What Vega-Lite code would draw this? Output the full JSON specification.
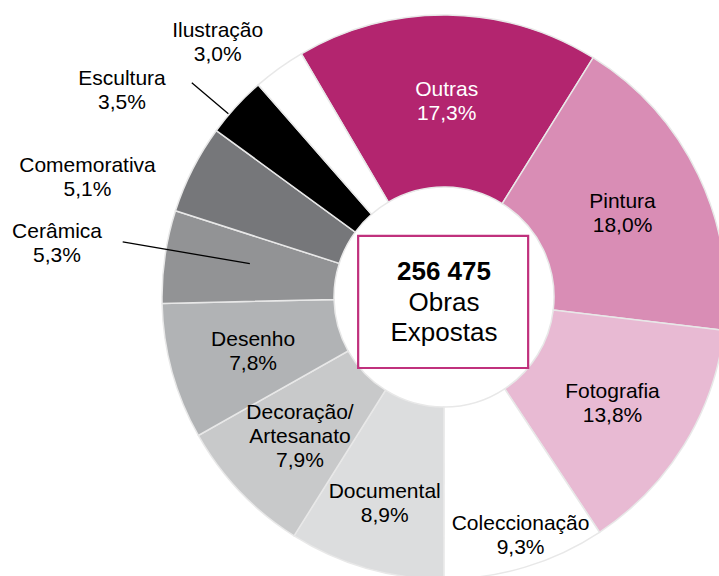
{
  "$schema": "https://vega.github.io/schema/vega-lite/v6.json",
  "autosize": "none",
  "width": 888,
  "height": 594,
  "padding": 0,
  "background": "white",
  "config": {"view": {"stroke": null}, "font": "Liberation Sans"},
  "data": {
    "values": [
      {"rank": 1, "cat": "Outras", "pct": 17.3, "label": "Outras\n17,3%"},
      {"rank": 2, "cat": "Pintura", "pct": 18.0, "label": "Pintura\n18,0%"},
      {"rank": 3, "cat": "Fotografia", "pct": 13.8, "label": "Fotografia\n13,8%"},
      {"rank": 4, "cat": "Coleccionação", "pct": 9.3, "label": "Coleccionação\n9,3%"},
      {"rank": 5, "cat": "Documental", "pct": 8.9, "label": "Documental\n8,9%"},
      {"rank": 6, "cat": "Decoração/Artesanato", "pct": 7.9, "label": "Decoração/\nArtesanato\n7,9%"},
      {"rank": 7, "cat": "Desenho", "pct": 7.8, "label": "Desenho\n7,8%"},
      {"rank": 8, "cat": "Cerâmica", "pct": 5.3, "label": "Cerâmica\n5,3%"},
      {"rank": 9, "cat": "Comemorativa", "pct": 5.1, "label": "Comemorativa\n5,1%"},
      {"rank": 10, "cat": "Escultura", "pct": 3.5, "label": "Escultura\n3,5%"},
      {"rank": 11, "cat": "Ilustração", "pct": 3.0, "label": "Ilustração\n3,0%"}
    ]
  },
  "layer": [
    {
      "mark": {"type": "arc", "innerRadius": 110, "outerRadius": 282, "stroke": "#E8E8E8", "strokeWidth": 1.5},
      "encoding": {
        "theta": {"field": "pct", "type": "quantitative", "stack": true, "scale": {"range": [-0.5306, 5.7526]}},
        "order": {"field": "rank", "type": "quantitative"},
        "color": {
          "field": "cat", "type": "nominal", "legend": null,
          "scale": {
            "domain": ["Outras", "Pintura", "Fotografia", "Coleccionação", "Documental", "Decoração/Artesanato", "Desenho", "Cerâmica", "Comemorativa", "Escultura", "Ilustração"],
            "range": ["#B3256F", "#D98DB5", "#E8BAD3", "#FFFFFF", "#DCDDDE", "#C8C9CA", "#B1B3B5", "#929395", "#76777A", "#000000", "#FFFFFF"]
          }
        }
      }
    },
    {
      "mark": {"type": "arc", "innerRadius": 197, "outerRadius": 326, "padAngle": 3, "thetaOffset": 0.026, "filled": false, "color": "black", "stroke": "black", "strokeWidth": 1.3},
      "encoding": {
        "theta": {"field": "pct", "type": "quantitative", "stack": true, "scale": {"range": [-0.5306, 5.7526]}},
        "order": {"field": "rank", "type": "quantitative"},
        "detail": {"field": "cat", "type": "nominal"},
        "strokeOpacity": {"condition": {"test": "datum.cat === 'Cerâmica'", "value": 1}, "value": 0}
      }
    },
    {
      "mark": {"type": "arc", "innerRadius": 283, "outerRadius": 331, "padAngle": 3, "thetaOffset": -0.037, "filled": false, "color": "black", "stroke": "black", "strokeWidth": 1.3},
      "encoding": {
        "theta": {"field": "pct", "type": "quantitative", "stack": true, "scale": {"range": [-0.5306, 5.7526]}},
        "order": {"field": "rank", "type": "quantitative"},
        "detail": {"field": "cat", "type": "nominal"},
        "strokeOpacity": {"condition": {"test": "datum.cat === 'Escultura'", "value": 1}, "value": 0}
      }
    },
    {
      "mark": {"type": "text", "radius": 198, "dy": -9, "fontSize": 21, "lineHeight": 24, "lineBreak": "\n", "align": "center", "baseline": "middle", "font": "Liberation Sans"},
      "encoding": {
        "theta": {"field": "pct", "type": "quantitative", "stack": true, "scale": {"range": [-0.5306, 5.7526]}},
        "order": {"field": "rank", "type": "quantitative"},
        "detail": {"field": "cat", "type": "nominal"},
        "text": {"field": "label", "type": "nominal"},
        "color": {"condition": {"test": "datum.cat === 'Outras'", "value": "white"}, "value": "black"},
        "opacity": {"condition": {"test": "indexof(['Outras','Pintura','Fotografia','Desenho'], datum.cat) >= 0", "value": 1}, "value": 0}
      }
    },
    {
      "mark": {"type": "text", "radius": 199, "dy": -21, "fontSize": 21, "lineHeight": 24, "lineBreak": "\n", "align": "center", "baseline": "middle", "font": "Liberation Sans", "color": "black"},
      "encoding": {
        "theta": {"field": "pct", "type": "quantitative", "stack": true, "scale": {"range": [-0.5306, 5.7526]}},
        "order": {"field": "rank", "type": "quantitative"},
        "detail": {"field": "cat", "type": "nominal"},
        "text": {"field": "label", "type": "nominal"},
        "opacity": {"condition": {"test": "datum.cat === 'Decoração/Artesanato'", "value": 1}, "value": 0}
      }
    },
    {
      "mark": {"type": "text", "radius": 214, "dy": -11, "fontSize": 21, "lineHeight": 24, "lineBreak": "\n", "align": "center", "baseline": "middle", "font": "Liberation Sans", "color": "black"},
      "encoding": {
        "theta": {"field": "pct", "type": "quantitative", "stack": true, "scale": {"range": [-0.5306, 5.7526]}},
        "order": {"field": "rank", "type": "quantitative"},
        "detail": {"field": "cat", "type": "nominal"},
        "text": {"field": "label", "type": "nominal"},
        "opacity": {"condition": {"test": "datum.cat === 'Documental'", "value": 1}, "value": 0}
      }
    },
    {
      "mark": {"type": "text", "radius": 249, "dx": 5, "dy": -11, "fontSize": 21, "lineHeight": 24, "lineBreak": "\n", "align": "center", "baseline": "middle", "font": "Liberation Sans", "color": "black"},
      "encoding": {
        "theta": {"field": "pct", "type": "quantitative", "stack": true, "scale": {"range": [-0.5306, 5.7526]}},
        "order": {"field": "rank", "type": "quantitative"},
        "detail": {"field": "cat", "type": "nominal"},
        "text": {"field": "label", "type": "nominal"},
        "opacity": {"condition": {"test": "datum.cat === 'Coleccionação'", "value": 1}, "value": 0}
      }
    },
    {
      "mark": {"type": "text", "radius": 391, "dy": -9, "fontSize": 21, "lineHeight": 24, "lineBreak": "\n", "align": "center", "baseline": "middle", "font": "Liberation Sans", "color": "black"},
      "encoding": {
        "theta": {"field": "pct", "type": "quantitative", "stack": true, "scale": {"range": [-0.5306, 5.7526]}},
        "order": {"field": "rank", "type": "quantitative"},
        "detail": {"field": "cat", "type": "nominal"},
        "text": {"field": "label", "type": "nominal"},
        "opacity": {"condition": {"test": "datum.cat === 'Cerâmica'", "value": 1}, "value": 0}
      }
    },
    {
      "mark": {"type": "text", "radius": 372, "dx": -25, "dy": 38, "fontSize": 21, "lineHeight": 24, "lineBreak": "\n", "align": "center", "baseline": "middle", "font": "Liberation Sans", "color": "black"},
      "encoding": {
        "theta": {"field": "pct", "type": "quantitative", "stack": true, "scale": {"range": [-0.5306, 5.7526]}},
        "order": {"field": "rank", "type": "quantitative"},
        "detail": {"field": "cat", "type": "nominal"},
        "text": {"field": "label", "type": "nominal"},
        "opacity": {"condition": {"test": "datum.cat === 'Comemorativa'", "value": 1}, "value": 0}
      }
    },
    {
      "mark": {"type": "text", "radius": 377, "dx": -44, "dy": 37, "fontSize": 21, "lineHeight": 24, "lineBreak": "\n", "align": "center", "baseline": "middle", "font": "Liberation Sans", "color": "black"},
      "encoding": {
        "theta": {"field": "pct", "type": "quantitative", "stack": true, "scale": {"range": [-0.5306, 5.7526]}},
        "order": {"field": "rank", "type": "quantitative"},
        "detail": {"field": "cat", "type": "nominal"},
        "text": {"field": "label", "type": "nominal"},
        "opacity": {"condition": {"test": "datum.cat === 'Escultura'", "value": 1}, "value": 0}
      }
    },
    {
      "mark": {"type": "text", "radius": 339, "dx": -28, "dy": 9, "fontSize": 21, "lineHeight": 24, "lineBreak": "\n", "align": "center", "baseline": "middle", "font": "Liberation Sans", "color": "black"},
      "encoding": {
        "theta": {"field": "pct", "type": "quantitative", "stack": true, "scale": {"range": [-0.5306, 5.7526]}},
        "order": {"field": "rank", "type": "quantitative"},
        "detail": {"field": "cat", "type": "nominal"},
        "text": {"field": "label", "type": "nominal"},
        "opacity": {"condition": {"test": "datum.cat === 'Ilustração'", "value": 1}, "value": 0}
      }
    },
    {
      "data": {"values": [{"total": "256 475", "caption": "Obras\nExpostas"}]},
      "mark": {"type": "point", "shape": "M-1.01,-0.72H0.99V0.835H-1.01Z", "size": 28900, "filled": false, "opacity": 1, "stroke": "#C0317D", "strokeWidth": 2.2},
      "encoding": {}
    },
    {
      "data": {"values": [{"total": "256 475", "caption": "Obras\nExpostas"}]},
      "mark": {"type": "text", "dy": -25, "fontSize": 26, "fontWeight": "bold", "align": "center", "baseline": "middle", "font": "Liberation Sans", "color": "black"},
      "encoding": {"text": {"field": "total", "type": "nominal"}}
    },
    {
      "data": {"values": [{"total": "256 475", "caption": "Obras\nExpostas"}]},
      "mark": {"type": "text", "dy": 6, "fontSize": 26, "lineHeight": 30, "lineBreak": "\n", "align": "center", "baseline": "middle", "font": "Liberation Sans", "color": "black"},
      "encoding": {"text": {"field": "caption", "type": "nominal"}}
    }
  ]
}
